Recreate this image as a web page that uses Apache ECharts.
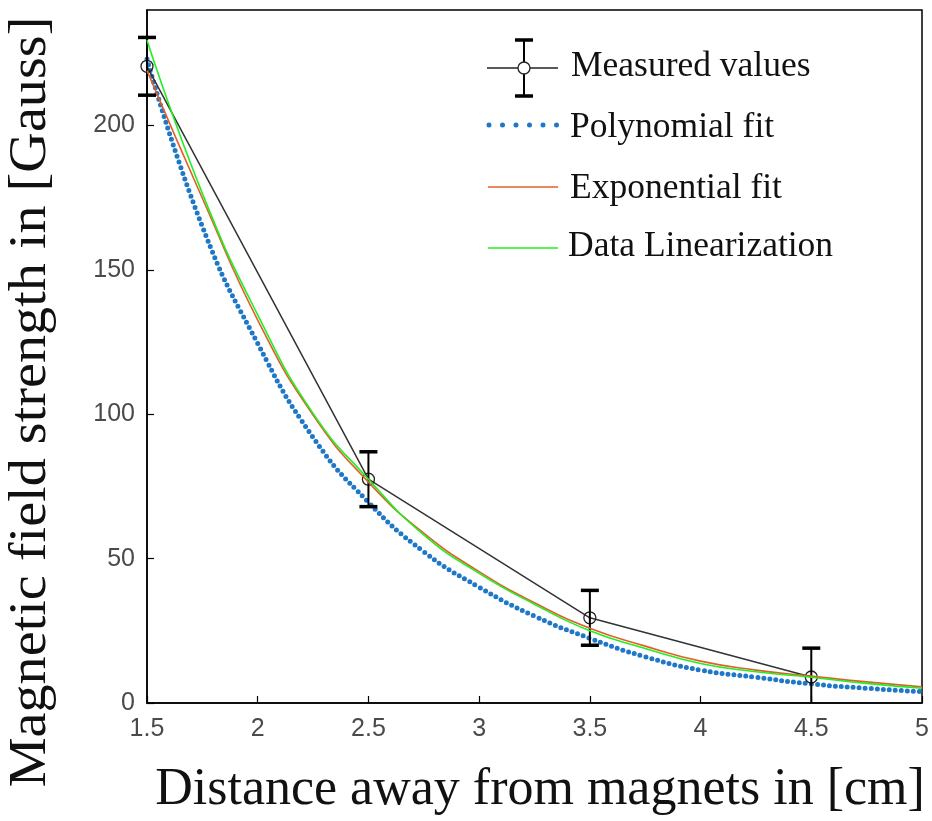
<!DOCTYPE html>
<html>
<head>
<meta charset="utf-8">
<script src="https://cdn.jsdelivr.net/npm/echarts@6/dist/echarts.min.js"></script>
<style>html,body{margin:0;padding:0;background:#fff;}#c{width:932px;height:821px;}</style>
</head>
<body>
<div id="c"></div>
<script>
// Measured data
var measX = [1.5, 2.5, 3.5, 4.5];
var measY = [220.5, 77.5, 29.5, 9];
var measErr = [10, 9.5, 9.5, 10];

var fitX = [1.5, 1.75, 2, 2.25, 2.5, 2.75, 3, 3.25, 3.5, 3.75, 4, 4.25, 4.5, 4.75, 5];
var polyY = [223, 165, 124.5, 92, 69.5, 52.4, 40.1, 30.1, 22.4, 16.0, 11.4, 8.9, 6.6, 5.1, 3.9];
var expoY = [219, 174.8, 132.6, 99.7, 76.5, 58.8, 45.5, 34.7, 25.9, 19.7, 14.5, 11.4, 9.3, 7.3, 5.6];
var linY  = [229.5, 176.5, 134.4, 100.3, 77.5, 58.2, 44.9, 34.2, 25.0, 18.9, 13.7, 10.8, 8.9, 6.8, 5.1];

var xTicks = [1.5, 2, 2.5, 3, 3.5, 4, 4.5, 5];
var yTicks = [0, 50, 100, 150, 200];

var seriesNames = ['Measured values', 'Polynomial fit', 'Exponential fit', 'Data Linearization'];
var xTitle = 'Distance away from magnets in [cm]';
var yTitle = 'Magnetic field strength in [Gauss]';

function zip(xs, ys) { return xs.map(function (x, i) { return [x, ys[i]]; }); }

var chart = echarts.init(document.getElementById('c'), null, {renderer: 'canvas'});
var serif = '"Liberation Serif", "Times New Roman", serif';
var sans = '"Liberation Sans", Arial, sans-serif';

var option = {
  animation: false,
  backgroundColor: '#fff',
  grid: {left: 147, right: 10, top: 10, bottom: 118, show: true, borderColor: '#000', borderWidth: 1.5, backgroundColor: 'transparent'},
  xAxis: {
    type: 'value', min: 1.5, max: 5, interval: 0.5,
    axisLine: {lineStyle: {color: '#000', width: 1.5}},
    axisTick: {inside: true, length: 7, lineStyle: {color: '#000', width: 1.2}},
    splitLine: {show: false},
    axisLabel: {color: '#4a4a4a', fontFamily: sans, fontSize: 25, margin: 14,
      formatter: function (v) { return xTicks.indexOf(v) >= 0 ? String(v) : ''; }}
  },
  yAxis: {
    type: 'value', min: 0, max: 240, interval: 50,
    axisLine: {lineStyle: {color: '#000', width: 1.5}},
    axisTick: {inside: true, length: 7, lineStyle: {color: '#000', width: 1.2}},
    splitLine: {show: false},
    axisLabel: {color: '#4a4a4a', fontFamily: sans, fontSize: 25, margin: 12, showMaxLabel: false,
      formatter: function (v) { return yTicks.indexOf(v) >= 0 ? String(v) : ''; }}
  },
  series: [
    {
      name: seriesNames[1], type: 'line', data: zip(fitX, polyY), smooth: 0.5,
      showSymbol: false, z: 2,
      lineStyle: {color: '#1f77c8', width: 5, type: [0, 6], cap: 'round'}
    },
    {
      name: seriesNames[0], type: 'line', data: zip(measX, measY),
      symbol: 'circle', symbolSize: 12, z: 3,
      itemStyle: {color: 'transparent', borderColor: '#222', borderWidth: 1.3},
      lineStyle: {color: '#333', width: 1.5}
    },
    {
      name: 'err', type: 'custom', z: 4,
      data: measX.map(function (x, i) { return [x, measY[i] - measErr[i], measY[i] + measErr[i]]; }),
      renderItem: function (params, api) {
        var lo = api.coord([api.value(0), api.value(1)]);
        var hi = api.coord([api.value(0), api.value(2)]);
        var hw = 9;
        var cs = params.coordSys;
        return {
          type: 'group',
          clipPath: {type: 'rect', shape: {x: cs.x - 30, y: cs.y - 40, width: cs.width + 60, height: cs.height + 40}},
          children: [
            {type: 'line', shape: {x1: hi[0], y1: hi[1], x2: lo[0], y2: lo[1]}, style: {stroke: '#000', lineWidth: 2}},
            {type: 'line', shape: {x1: hi[0] - hw, y1: hi[1], x2: hi[0] + hw, y2: hi[1]}, style: {stroke: '#000', lineWidth: 3.5}},
            {type: 'line', shape: {x1: lo[0] - hw, y1: lo[1], x2: lo[0] + hw, y2: lo[1]}, style: {stroke: '#000', lineWidth: 3.5}}
          ]
        };
      }
    },
    {
      name: seriesNames[2], type: 'line', data: zip(fitX, expoY), smooth: 0.5,
      showSymbol: false, z: 5, lineStyle: {color: '#e0602a', width: 1.6}
    },
    {
      name: seriesNames[3], type: 'line', data: zip(fitX, linY), smooth: 0.5,
      showSymbol: false, z: 6, lineStyle: {color: '#22ee22', width: 1.6}
    }
  ],
  graphic: [
    // y-axis title
    {type: 'text', x: 31, y: 402, rotation: Math.PI / 2, scaleX: 1.06, z: 10,
      style: {text: yTitle, font: '53px ' + serif, fill: '#111', align: 'center', verticalAlign: 'middle'}},
    // x-axis title
    {type: 'text', x: 540, y: 790, z: 10,
      style: {text: xTitle, font: '52px ' + serif, fill: '#111', align: 'center', verticalAlign: 'middle'}},
    // legend row 1: Measured values
    {type: 'line', shape: {x1: 487, y1: 68, x2: 558, y2: 68}, style: {stroke: '#222', lineWidth: 1.5}, z: 10},
    {type: 'line', shape: {x1: 524, y1: 40, x2: 524, y2: 96}, style: {stroke: '#000', lineWidth: 2}, z: 10},
    {type: 'line', shape: {x1: 515, y1: 40, x2: 533, y2: 40}, style: {stroke: '#000', lineWidth: 3.5}, z: 10},
    {type: 'line', shape: {x1: 515, y1: 96, x2: 533, y2: 96}, style: {stroke: '#000', lineWidth: 3.5}, z: 10},
    {type: 'circle', shape: {cx: 524, cy: 68, r: 6}, style: {fill: '#fff', stroke: '#222', lineWidth: 1.3}, z: 11},
    {type: 'text', x: 571, y: 67, z: 10, style: {text: seriesNames[0], font: '35.5px ' + serif, fill: '#111', verticalAlign: 'middle'}},
    // row 2
    {type: 'line', shape: {x1: 489, y1: 125, x2: 557, y2: 125}, style: {stroke: '#1f77c8', lineWidth: 5, lineDash: [0, 13.5], lineCap: 'round'}, z: 10},
    {type: 'text', x: 570, y: 128, z: 10, style: {text: seriesNames[1], font: '35.5px ' + serif, fill: '#111', verticalAlign: 'middle'}},
    // row 3
    {type: 'line', shape: {x1: 488, y1: 187, x2: 558, y2: 187}, style: {stroke: '#e0602a', lineWidth: 1.6}, z: 10},
    {type: 'text', x: 570, y: 189, z: 10, style: {text: seriesNames[2], font: '35.5px ' + serif, fill: '#111', verticalAlign: 'middle'}},
    // row 4
    {type: 'line', shape: {x1: 488, y1: 248, x2: 558, y2: 248}, style: {stroke: '#22ee22', lineWidth: 1.6}, z: 10},
    {type: 'text', x: 568, y: 247, z: 10, style: {text: seriesNames[3], font: '35.5px ' + serif, fill: '#111', verticalAlign: 'middle'}}
  ]
};
chart.setOption(option);
</script>
</body>
</html>
